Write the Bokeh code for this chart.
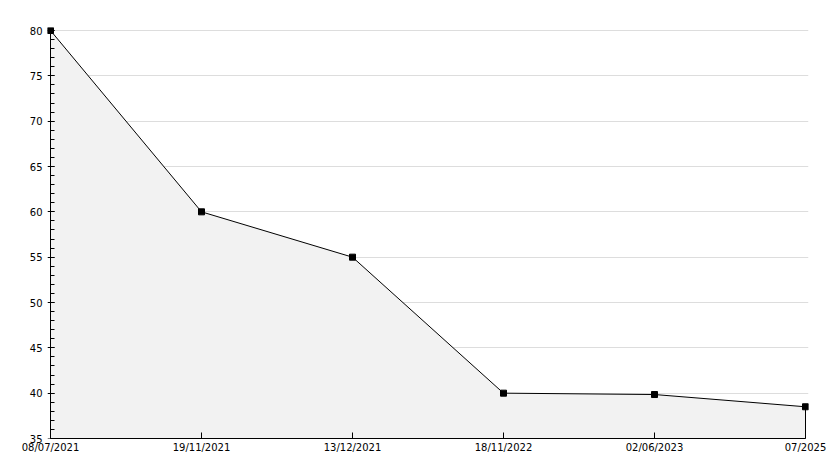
from bokeh.plotting import figure
from bokeh.models import FixedTicker, SingleIntervalTicker, Range1d, LinearAxis
from bokeh.embed import file_html
from bokeh.resources import INLINE

dates = ["08/07/2021", "19/11/2021", "13/12/2021", "18/11/2022", "02/06/2023", "07/2025"]
values = [80, 60, 55, 40, 39.85, 38.5]
y_min, y_max = 35, 80

xs = list(range(len(dates)))

# data area: 755 x 408 px; a small pad keeps the edge markers unclipped
DATA_W, DATA_H, PAD = 755, 408, 3
x_pad = PAD * (len(dates) - 1) / DATA_W
y_pad = PAD * (y_max - y_min) / DATA_H

p = figure(width=826, height=460, output_backend="svg", toolbar_location=None,
           x_range=Range1d(-x_pad, len(dates) - 1 + x_pad),
           y_range=Range1d(y_min, y_max + y_pad),
           min_border_left=50 - PAD, min_border_right=21 - PAD,
           min_border_top=30 - PAD, min_border_bottom=22)
p.outline_line_color = None
p.background_fill_color = "white"
p.border_fill_color = "white"

# area
p.patch([xs[0]] + xs + [xs[-1]], [y_min] + values + [y_min],
        fill_color="#f2f2f2", line_color="black", line_width=1)
p.scatter(xs, values, marker="square", size=6, color="black")

p.xgrid.visible = False
p.ygrid.grid_line_color = "#dddddd"
p.ygrid.grid_line_width = 1

xax = p.xaxis[0]
xax.ticker = FixedTicker(ticks=xs)
xax.bounds = (xs[0], xs[-1])
xax.major_label_overrides = {i: d for i, d in enumerate(dates)}
xax.major_tick_in = 6
xax.major_tick_out = 0
xax.minor_tick_line_color = None
xax.major_label_standoff = 3
xax.axis_line_color = "black"
xax.major_tick_line_color = "black"

# label-only y axis at the frame edge
ylab = p.yaxis[0]
ylab.ticker = SingleIntervalTicker(interval=5, num_minor_ticks=5)
ylab.bounds = (y_min, y_max)
ylab.axis_line_color = None
ylab.major_tick_line_color = None
ylab.minor_tick_line_color = None
ylab.major_tick_in = 0
ylab.major_tick_out = 0
ylab.minor_tick_in = 0
ylab.minor_tick_out = 0
ylab.major_label_standoff = 8 - PAD

# line + ticks y axis pinned at the first category
yline = LinearAxis(ticker=SingleIntervalTicker(interval=5, num_minor_ticks=5),
                   bounds=(y_min, y_max), fixed_location=xs[0],
                   major_label_text_color=None, major_label_text_font_size="1px",
                   major_tick_in=4, major_tick_out=3, minor_tick_in=4, minor_tick_out=0,
                   axis_line_color="black", major_tick_line_color="black",
                   minor_tick_line_color="black")
p.add_layout(yline, "left")

for ax in (xax, ylab):
    ax.major_label_text_font = "DejaVu Sans"
    ax.major_label_text_font_size = "10px"
    ax.major_label_text_color = "black"

open("out.html", "w").write(file_html(p, INLINE))
